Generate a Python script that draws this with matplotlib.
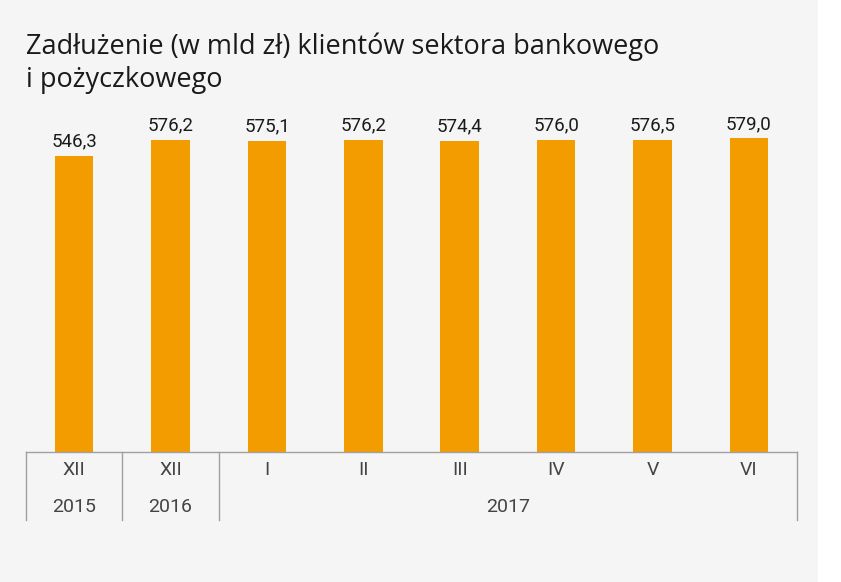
import matplotlib.pyplot as plt
import matplotlib.transforms as mtransforms

months = ["XII", "XII", "I", "II", "III", "IV", "V", "VI"]
values = [546.3, 576.2, 575.1, 576.2, 574.4, 576.0, 576.5, 579.0]
years = ["2015", "2016", "2017"]
year_spans = [(0, 0), (1, 1), (2, 7)]

bg = "#f5f5f5"
bar_color = "#f39c00"
line_color = "#a0a0a0"

plt.rcParams['font.family'] = ['Roboto', 'DejaVu Sans']

fig = plt.figure(figsize=(8.41, 5.82), dpi=100)
fig.patch.set_facecolor("white")
# grey panel, white strip at the right
fig.patches.append(plt.Rectangle((0, 0), 818 / 841, 1, transform=fig.transFigure,
                                 facecolor=bg, edgecolor="none", zorder=-10))

W, H = 841, 582
ax = fig.add_axes([26 / W, (H - 452) / H, (797 - 26) / W, 352 / H])
ax.set_facecolor("none")

x = list(range(len(values)))
ax.bar(x, values, width=0.4, color=bar_color, zorder=2)
for xi, v in zip(x, values):
    ax.annotate(f"{v:.1f}".replace(".", ","), (xi, v), xytext=(0, 4),
                textcoords="offset points", ha="center", va="bottom",
                fontsize=13.5, color="#1a1a1a")

ax.set_xlim(-0.5, len(values) - 0.5)
ax.set_ylim(0, 650)
ax.set_xticks([])
ax.set_yticks([])
for s in ax.spines.values():
    s.set_visible(False)

# category table below the baseline
trans = mtransforms.blended_transform_factory(ax.transData, ax.transAxes)
depth = 68 / 352
ax.plot([-0.5, len(values) - 0.5], [0, 0], transform=trans, color=line_color,
        lw=1, clip_on=False, zorder=3)
for sep in [-0.5, 0.5, 1.5, len(values) - 0.5]:
    ax.plot([sep, sep], [0, -depth], transform=trans, color=line_color,
            lw=1, clip_on=False)

for xi, m in zip(x, months):
    ax.text(xi, -18 / 352, m, transform=trans, ha="center", va="center",
            fontsize=14, color="#444444")
for yr, (a, b) in zip(years, year_spans):
    ax.text((a + b) / 2, -55 / 352, yr, transform=trans, ha="center", va="center",
            fontsize=14, color="#444444")

title_kw = dict(fontsize=19.5, color="#1a1a1a", va="center", ha="left",
                family=["Open Sans", "DejaVu Sans"])
fig.text(26 / W, 1 - 47 / H, "Zadłużenie (w mld zł) klientów sektora bankowego", **title_kw)
fig.text(26 / W, 1 - 80 / H, "i pożyczkowego", **title_kw)

fig.savefig("out.png", dpi=100, facecolor=fig.get_facecolor())
